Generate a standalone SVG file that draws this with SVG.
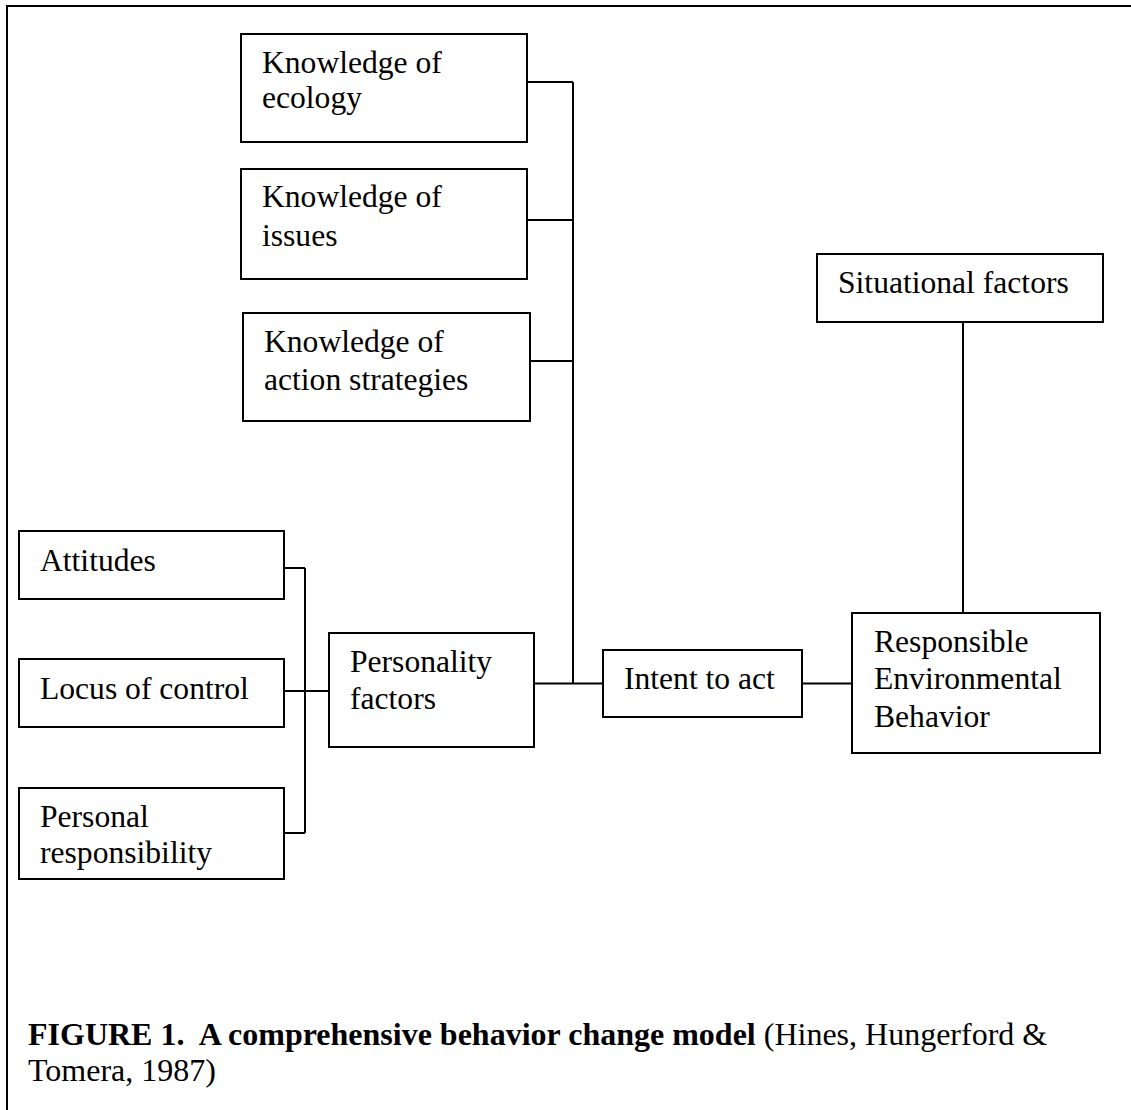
<svg xmlns="http://www.w3.org/2000/svg" width="1131" height="1110" viewBox="0 0 1131 1110">
<style>
.box{fill:#fff;stroke:#000;stroke-width:2}
.ln{fill:none;stroke:#000;stroke-width:2}
.t{font-family:"Liberation Serif","Times New Roman",serif;font-size:31.6px;fill:#000}
.cap{font-family:"Liberation Serif","Times New Roman",serif;font-size:32px;fill:#000}
</style>
<rect width="1131" height="1110" fill="#fff"/>
<path class="ln" d="M7,1110 V6 H1131" stroke-width="2.5"/>
<g id="connectors">
<path class="ln" d="M528,82 H573 M528,220 H573 M530,361 H573 M573,82 V683.5"/>
<path class="ln" d="M534,683.5 H603 M802,683.5 H852 M963,322 V613"/>
<path class="ln" d="M284,568 H305 M284,833 H305 M305,568 V833 M284,691 H329"/>
</g>
<g id="knowledge-ecology">
<rect class="box" x="241" y="34" width="286" height="108"/>
<text class="t" x="262" y="73">Knowledge of</text>
<text class="t" x="262" y="108">ecology</text>
</g>
<g id="knowledge-issues">
<rect class="box" x="241" y="169" width="286" height="110"/>
<text class="t" x="262" y="207">Knowledge of</text>
<text class="t" x="262" y="246">issues</text>
</g>
<g id="knowledge-action">
<rect class="box" x="243" y="313" width="287" height="108"/>
<text class="t" x="264" y="352">Knowledge of</text>
<text class="t" x="264" y="390">action strategies</text>
</g>
<g id="situational">
<rect class="box" x="817" y="254" width="286" height="68"/>
<text class="t" x="838" y="293">Situational factors</text>
</g>
<g id="attitudes">
<rect class="box" x="19" y="531" width="265" height="68"/>
<text class="t" x="40" y="571">Attitudes</text>
</g>
<g id="locus">
<rect class="box" x="19" y="659" width="265" height="68"/>
<text class="t" x="40" y="699">Locus of control</text>
</g>
<g id="personal">
<rect class="box" x="19" y="788" width="265" height="91"/>
<text class="t" x="40" y="827">Personal</text>
<text class="t" x="40" y="863">responsibility</text>
</g>
<g id="personality">
<rect class="box" x="329" y="633" width="205" height="114"/>
<text class="t" x="350" y="672">Personality</text>
<text class="t" x="350" y="709">factors</text>
</g>
<g id="intent">
<rect class="box" x="603" y="650" width="199" height="67"/>
<text class="t" x="624" y="689">Intent to act</text>
</g>
<g id="reb">
<rect class="box" x="852" y="613" width="248" height="140"/>
<text class="t" x="874" y="652">Responsible</text>
<text class="t" x="874" y="689">Environmental</text>
<text class="t" x="874" y="727">Behavior</text>
</g>
<g id="caption">
<text class="cap" x="28" y="1045" xml:space="preserve"><tspan font-weight="bold">FIGURE 1.  A comprehensive behavior change model</tspan> (Hines, Hungerford &amp;</text>
<text class="cap" x="28" y="1081">Tomera, 1987)</text>
</g>
</svg>
